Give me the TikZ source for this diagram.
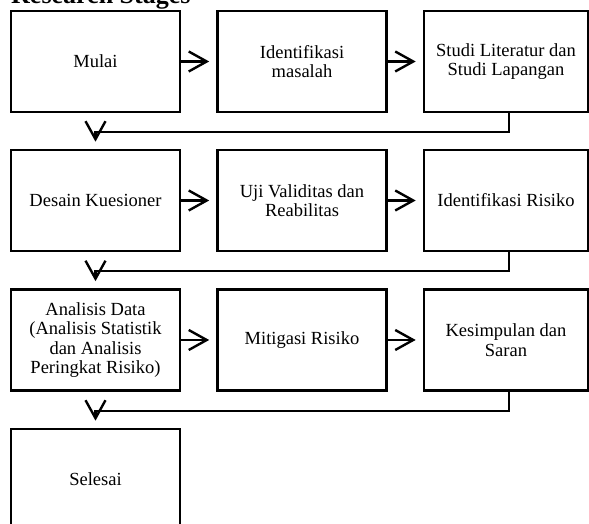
\documentclass[tikz,border=0pt]{standalone}
\usepackage{fontspec}
\setmainfont{Liberation Serif}
\usetikzlibrary{arrows.meta}
\begin{document}
\begin{tikzpicture}[x=1pt,y=1pt,
  stagebox/.style={draw=black, line width=2.6pt, minimum width=169pt, minimum height=101pt,
    align=center, inner sep=2pt, font=\fontsize{18.5}{19.5}\selectfont},
  conn/.style={draw=black, line width=2.4pt, -{Straight Barb[length=18pt,width=20pt,line width=2.4pt]}}]
\clip (0,0) rectangle (589,524);
\fill[white] (0,0) rectangle (589,524);
\node[anchor=base west, inner sep=0pt, font=\fontsize{26}{28}\selectfont\bfseries] (title) at (11,520) {Research Stages};
% row 1
\node[stagebox] (a1) at (95.5,462.5) {Mulai};
\node[stagebox] (a2) at (302,462.5) {Identifikasi\\masalah};
\node[stagebox, minimum width=164pt] (a3) at (506,462.5) {Studi Literatur dan\\Studi Lapangan};
% row 2
\node[stagebox] (b1) at (95.5,323.5) {Desain Kuesioner};
\node[stagebox] (b2) at (302,323.5) {Uji Validitas dan\\Reabilitas};
\node[stagebox, minimum width=164pt] (b3) at (506,323.5) {Identifikasi Risiko};
% row 3
\node[stagebox] (c1) at (95.5,184) {Analisis Data\\(Analisis Statistik\\dan Analisis\\Peringkat Risiko)};
\node[stagebox] (c2) at (302,184) {Mitigasi Risiko};
\node[stagebox, minimum width=164pt] (c3) at (506,184) {Kesimpulan dan\\Saran};
% row 4
\node[stagebox] (d1) at (95.5,44.5) {Selesai};
% horizontal connectors
\draw[conn, shorten >=7pt] (a1.east) -- (a2.west);
\draw[conn, shorten >=7pt] (a2.east) -- (a3.west);
\draw[conn, shorten >=7pt] (b1.east) -- (b2.west);
\draw[conn, shorten >=7pt] (b2.east) -- (b3.west);
\draw[conn, shorten >=7pt] (c1.east) -- (c2.west);
\draw[conn, shorten >=7pt] (c2.east) -- (c3.west);
% row-to-row connectors
\draw[conn] ([xshift=3pt]a3.south) -- ++(0,-19) -| ([yshift=7pt]b1.north);
\draw[conn] ([xshift=3pt]b3.south) -- ++(0,-19) -| ([yshift=7pt]c1.north);
\draw[conn] ([xshift=3pt]c3.south) -- ++(0,-19) -| ([yshift=7pt]d1.north);
\end{tikzpicture}
\end{document}
